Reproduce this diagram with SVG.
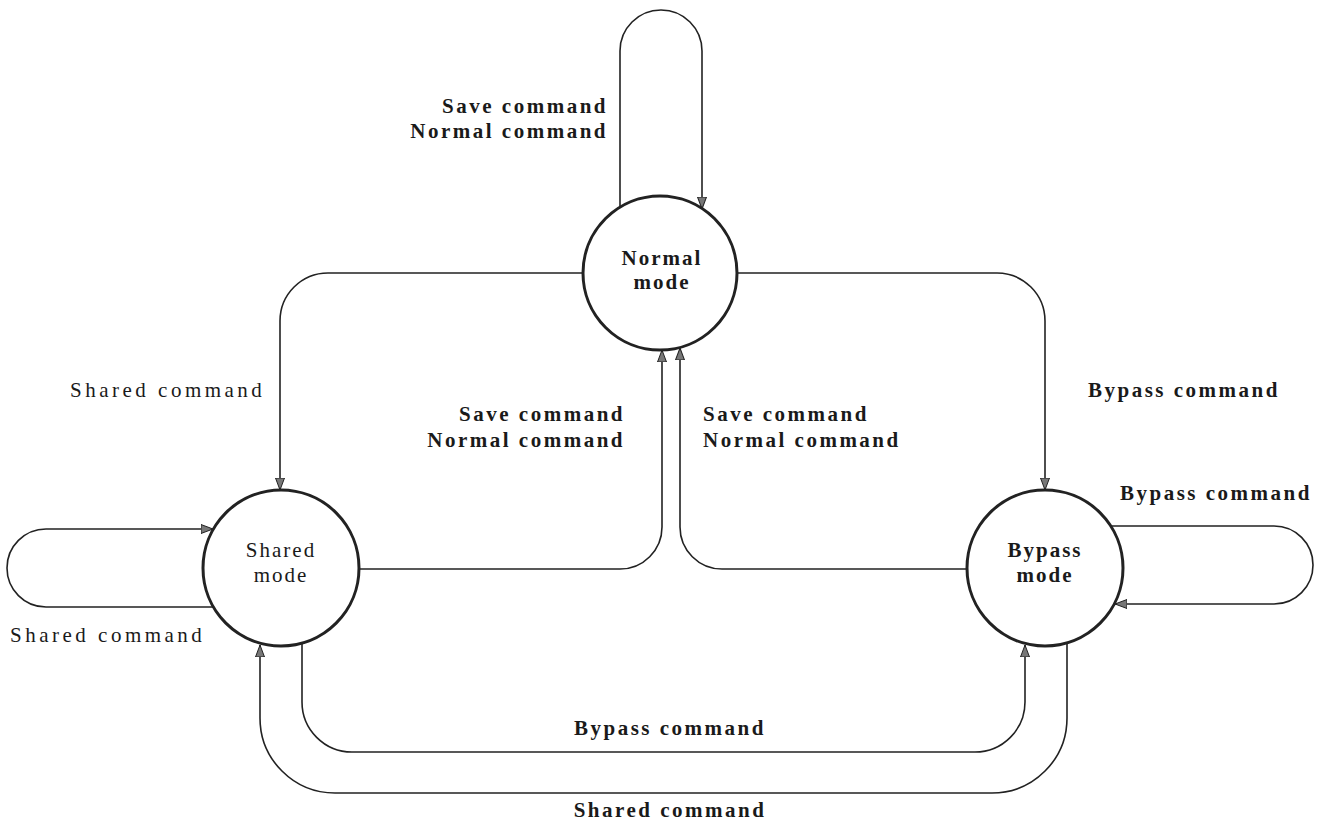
<svg xmlns="http://www.w3.org/2000/svg" width="1322" height="828" viewBox="0 0 1322 828">
<style>
.node{fill:#fff;stroke:#222;stroke-width:3}
.edge{fill:none;stroke:#222;stroke-width:1.6}
text{font-family:"Liberation Serif","Times New Roman",serif;font-size:21px;fill:#1a1a1a;letter-spacing:2.5px;font-weight:bold}
.lt{font-weight:normal;letter-spacing:3.5px}
.ntx{text-anchor:middle;letter-spacing:2px}
</style>
<defs>
<marker id="arr" markerUnits="userSpaceOnUse" markerWidth="14" markerHeight="12" refX="12" refY="5" orient="auto">
<path d="M0,0.5 L12,5 L0,9.5 Z" fill="#777" stroke="#222" stroke-width="1"/>
</marker>
</defs>
<rect width="1322" height="828" fill="#fff"/>
<g id="connectors">
<path class="edge" d="M620 207 L620 51 A41 41 0 0 1 702 51 L702 209" marker-end="url(#arr)"/>
<path class="edge" d="M583 273 L328 273 A48 48 0 0 0 280 321 L280 490" marker-end="url(#arr)"/>
<path class="edge" d="M737 273 L997 273 A48 48 0 0 1 1045 321 L1045 490" marker-end="url(#arr)"/>
<path class="edge" d="M359 569 L620 569 A42 42 0 0 0 662 527 L662 350" marker-end="url(#arr)"/>
<path class="edge" d="M967 569 L722 569 A42 42 0 0 1 680 527 L680 348" marker-end="url(#arr)"/>
<path class="edge" d="M214 607 L46 607 A39 39 0 0 1 46 529 L213 529" marker-end="url(#arr)"/>
<path class="edge" d="M1111 526 L1274 526 A39 39 0 0 1 1274 604 L1115 604" marker-end="url(#arr)"/>
<path class="edge" d="M302 643 L302 702 A50 50 0 0 0 352 752 L975 752 A50 50 0 0 0 1025 702 L1025 645" marker-end="url(#arr)"/>
<path class="edge" d="M1067 643 L1067 718 A75 75 0 0 1 992 793 L335 793 A75 75 0 0 1 260 718 L260 645" marker-end="url(#arr)"/>
</g>
<g id="labels">
<text x="608" y="113" text-anchor="end">Save command</text>
<text x="608" y="138" text-anchor="end">Normal command</text>
<text class="lt" x="70" y="397">Shared command</text>
<text x="1088" y="397">Bypass command</text>
<text x="625" y="421" text-anchor="end">Save command</text>
<text x="625" y="447" text-anchor="end">Normal command</text>
<text x="703" y="421">Save command</text>
<text x="703" y="447">Normal command</text>
<text x="1120" y="500">Bypass command</text>
<text class="lt" x="10" y="642">Shared command</text>
<text x="670" y="735" text-anchor="middle">Bypass command</text>
<text x="670" y="817" text-anchor="middle">Shared command</text>
</g>
<g id="normal">
<circle class="node" cx="660" cy="273" r="77"/>
<text class="ntx" x="662" y="265">Normal</text>
<text class="ntx" x="662" y="289">mode</text>
</g>
<g id="shared">
<circle class="node" cx="281" cy="568" r="78"/>
<text class="ntx lt" x="281" y="557">Shared</text>
<text class="ntx lt" x="281" y="582">mode</text>
</g>
<g id="bypass">
<circle class="node" cx="1045" cy="568" r="78"/>
<text class="ntx" x="1045" y="557">Bypass</text>
<text class="ntx" x="1045" y="582">mode</text>
</g>
</svg>
